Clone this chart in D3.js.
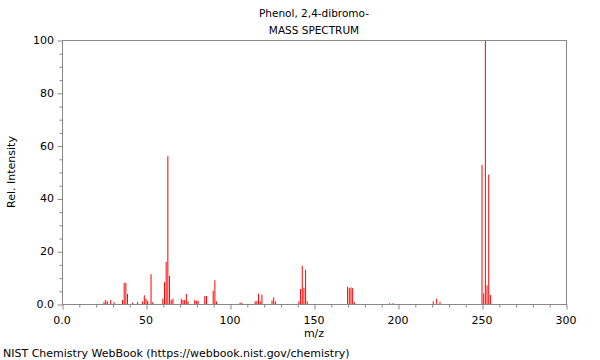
<!DOCTYPE html>
<html><head><meta charset="utf-8">
<script src="https://cdn.jsdelivr.net/npm/d3@7"></script>
<style>body{margin:0;background:#fff}svg{display:block}text{font-family:"DejaVu Sans",sans-serif;fill:#000}</style>
</head><body>
<svg id="c" width="600" height="360"></svg>
<script>
const titleLines = ["Phenol, 2,4-dibromo-", "MASS SPECTRUM"];
const mzValues = [25,26,27,29,31,36,37,38,39,42,45,48,49,50,51,53,54,60,61,62,63,64,65,66,71,72,73,74,75,79,80,81,85,86,90,91,92,106,107,115,116,117,118,119,125,126,127,141,142,143,144,145,146,170,171,172,173,174,195,197,221,223,225,250,251,252,253,254,255];
const intensities = [0.8,1.5,1,1.5,0.7,1.5,8,8,3.8,0.5,0.7,1,3.3,2,1.2,11.3,0.7,2,8.3,16,56,10.6,1.5,2,2,1.5,1.5,3.8,1,1.5,1.2,1.2,3,3,5,9,1,0.5,0.5,1,1.2,3.9,1,3.5,1.3,2.5,1,1,5.7,14.4,6.2,13,1,6.6,6,6.3,6,0.7,0.3,0.3,1,2,0.8,52.7,4,100,7,49,3.4];
const xTicks = [0,50,100,150,200,250,300];
const yTicks = [0,20,40,60,80,100];

const svg = d3.select("#c");
const L=62,R=566,T=40,B=304;
const x = d3.scaleLinear().domain([0,300]).range([L,R]);
const y = d3.scaleLinear().domain([0,100]).range([B,T]);
const grey="#888";

svg.selectAll("rect.bar").data(mzValues).join("rect").attr("class","bar")
  .attr("x",d=>x(d)-0.5).attr("width",1)
  .attr("y",(d,i)=>y(intensities[i])).attr("height",(d,i)=>B-y(intensities[i]))
  .attr("fill","#ff0000");

// frame
svg.append("rect").attr("x",L+0.5).attr("y",T+0.5).attr("width",R-L).attr("height",B-T)
  .attr("fill","none").attr("stroke",grey).attr("stroke-width",1);

// x axis
const xa = svg.append("g").attr("transform",`translate(0.5,${B+0.5})`)
  .call(d3.axisBottom(x).tickValues(d3.range(0,301,10)).tickSize(3).tickFormat(""));
xa.select(".domain").remove();
xa.selectAll("line").attr("stroke",grey);
xa.selectAll(".tick").filter(d=>d%50===0).select("line").attr("y2",5);
svg.selectAll("text.xt").data(xTicks).join("text").attr("class","xt")
  .attr("x",d=>x(d)).attr("y",B+20).attr("text-anchor","middle").attr("font-size",11)
  .text(d=>d===0?"0.0":d);

// y axis
const ya = svg.append("g").attr("transform",`translate(${L+0.5},0.5)`)
  .call(d3.axisLeft(y).tickValues(d3.range(0,101,5)).tickSize(3).tickFormat(""));
ya.select(".domain").remove();
ya.selectAll("line").attr("stroke",grey);
ya.selectAll(".tick").filter(d=>d%20===0).select("line").attr("x2",-5);
svg.selectAll("text.yt").data(yTicks).join("text").attr("class","yt")
  .attr("x",L-8).attr("y",d=>y(d)+4).attr("text-anchor","end").attr("font-size",11)
  .text(d=>d===0?"0.0":d);

// titles
svg.selectAll("text.title").data(titleLines).join("text").attr("class","title")
  .attr("x",(L+R)/2).attr("y",(d,i)=>17+i*17).attr("text-anchor","middle").attr("font-size",10.5)
  .text(d=>d);
svg.append("text").attr("x",(L+R)/2).attr("y",337).attr("text-anchor","middle").attr("font-size",11).text("m/z");
svg.append("text").attr("transform",`translate(15,${(T+B)/2}) rotate(-90)`).attr("text-anchor","middle").attr("font-size",11).text("Rel. Intensity");
svg.append("text").attr("x",3).attr("y",357).attr("font-size",11).text("NIST Chemistry WebBook (https://webbook.nist.gov/chemistry)");
</script>
</body></html>
